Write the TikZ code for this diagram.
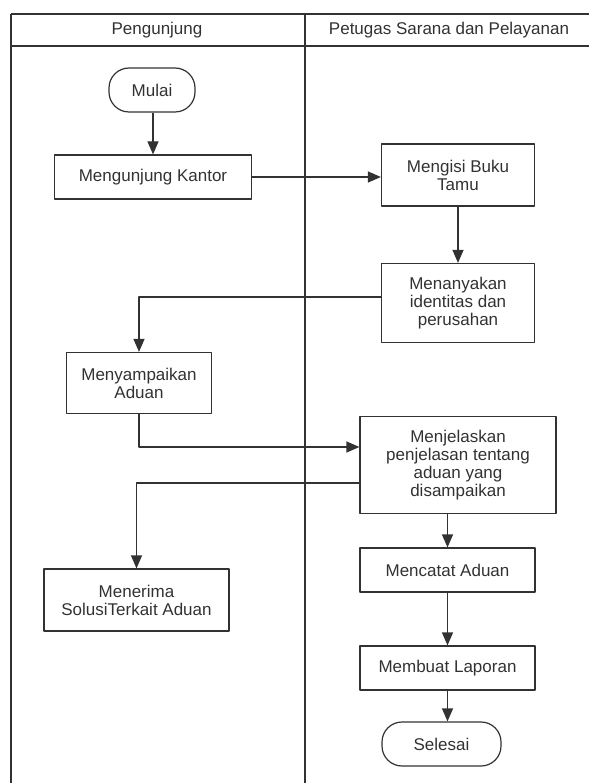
\documentclass[tikz,border=0pt]{standalone}
\usepackage{fontspec}
\setmainfont{Liberation Sans}
\usetikzlibrary{arrows.meta}
\definecolor{garis}{RGB}{50,50,50}
\begin{document}
\begin{tikzpicture}[x=1pt,y=-1pt,>={Triangle[length=13pt,width=11pt]}, font=\fontsize{17}{18}\selectfont, line width=1.2pt, line join=round]
	\tikzset{kotak/.style={draw=garis, text=garis, align=center, inner sep=0pt},
		ujung/.style={kotak, rounded corners=20pt},
		panah/.style={->, draw=garis, line width=1.2pt}}
	\def\xa{11} \def\xb{305} % batas lajur
	\def\ya{14} \def\yb{46} \def\yc{783}
	\useasboundingbox (0,0) rectangle (589,783);
	% lajur
	\draw[garis] (\xa,\ya)--(589,\ya) (\xa,\yb)--(589,\yb);
	\draw[garis] (\xa,\ya)--(\xa,\yc) (\xb,\ya)--(\xb,\yc);
	\node[text=garis] (h1) at (157,30) {Pengunjung};
	\node[text=garis] (h2) at (449,30) {Petugas Sarana dan Pelayanan};
	% simpul
	\node[ujung, minimum width=86pt, minimum height=44pt] (mulai) at (152,90) {Mulai};
	\node[kotak, minimum width=197pt, minimum height=44pt] (kantor) at (153,177) {Mengunjung Kantor};
	\node[kotak, minimum width=153pt, minimum height=62pt] (tamu) at (458,175) {Mengisi Buku\\Tamu};
	\node[kotak, minimum width=153pt, minimum height=79pt] (tanya) at (458,303) {Menanyakan\\identitas dan\\perusahan};
	\node[kotak, minimum width=145pt, minimum height=61pt] (aduan) at (139,383) {Menyampaikan\\Aduan};
	\node[kotak, minimum width=196pt, minimum height=97pt] (jelas) at (458,465) {Menjelaskan\\penjelasan tentang\\aduan yang\\disampaikan};
	\node[kotak, minimum width=185pt, minimum height=62pt] (terima) at (136.5,600) {Menerima\\SolusiTerkait Aduan};
	\node[kotak, minimum width=175pt, minimum height=44pt] (catat) at (447.5,570) {Mencatat Aduan};
	\node[kotak, minimum width=175pt, minimum height=44pt] (lapor) at (447.5,668) {Membuat Laporan};
	\node[ujung, minimum width=119pt, minimum height=44pt] (selesai) at (441.5,744) {Selesai};
	% alur
	\draw[panah] (kantor.north |- mulai.south)--(kantor.north);
	\draw[panah] (kantor.east)--(tamu.west |- kantor.east);
	\draw[panah] (tamu.south)--(tanya.north);
	\draw[panah] ([yshift=6pt]tanya.west) -| (aduan.north);
	\draw[panah] (aduan.south) |- ([yshift=18pt]jelas.west);
	\draw[panah] ([yshift=-18pt]jelas.west) -| (terima.north);
	\draw[panah] (jelas.south -| catat.north)--(catat.north);
	\draw[panah] (catat.south)--(lapor.north);
	\draw[panah] (lapor.south)--(lapor.south |- selesai.north);
\end{tikzpicture}
\end{document}
